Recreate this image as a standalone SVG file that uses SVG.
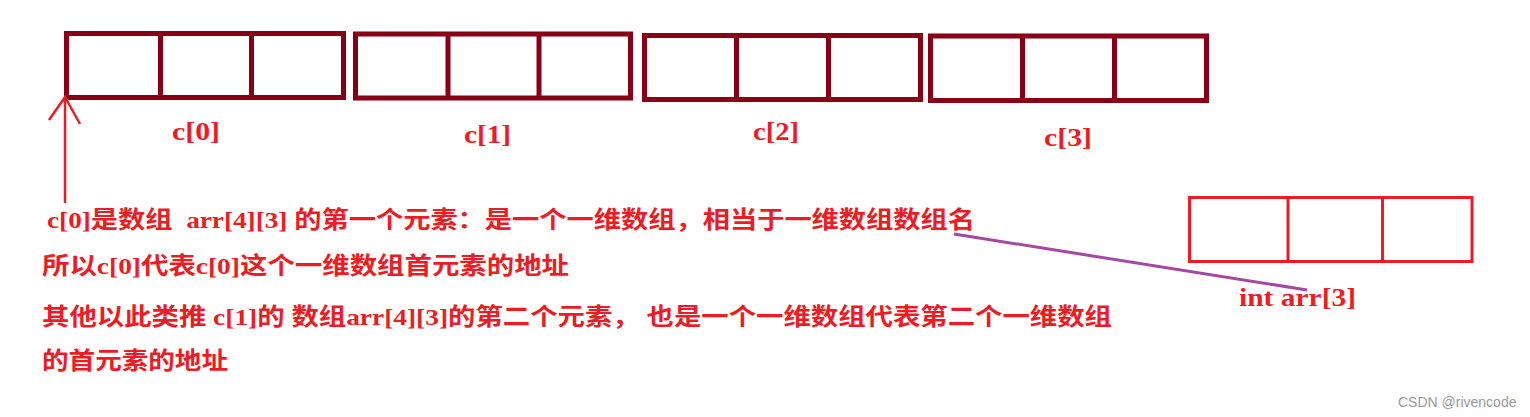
<svg xmlns="http://www.w3.org/2000/svg" width="1530" height="417" viewBox="0 0 1530 417">
<style>
.dr{fill:none;stroke:#880015;stroke-width:5}
.rd{fill:none;stroke:#ED1C24;stroke-width:3}
.lbl{font-family:"Liberation Serif","Noto Sans CJK SC",serif;font-weight:bold;fill:#ED1C24}
.cn{font-family:"Liberation Serif","Noto Sans CJK SC",serif;font-weight:bold;fill:#ED1C24;font-size:24px}
.wm{font-family:"Liberation Sans",Arial,sans-serif;font-size:14px;fill:#9a9a9a}
</style>
<rect width="1530" height="417" fill="#ffffff"/>
<g id="c0">
<rect class="dr" x="66.5" y="33.5" width="277" height="64"/>
<line class="dr" x1="160.5" y1="33.5" x2="160.5" y2="97.5"/>
<line class="dr" x1="251.5" y1="33.5" x2="251.5" y2="97.5"/>
<text class="lbl" x="172" y="140" font-size="26" textLength="48" lengthAdjust="spacingAndGlyphs">c[0]</text>
</g>
<g id="c1">
<rect class="dr" x="355.5" y="34" width="275" height="64"/>
<line class="dr" x1="448" y1="34" x2="448" y2="98"/>
<line class="dr" x1="539" y1="34" x2="539" y2="98"/>
<text class="lbl" x="464" y="143" font-size="26" textLength="47" lengthAdjust="spacingAndGlyphs">c[1]</text>
</g>
<g id="c2">
<rect class="dr" x="644.5" y="35.5" width="276" height="64"/>
<line class="dr" x1="736.5" y1="35.5" x2="736.5" y2="99.5"/>
<line class="dr" x1="828.5" y1="35.5" x2="828.5" y2="99.5"/>
<text class="lbl" x="753" y="140" font-size="26" textLength="46" lengthAdjust="spacingAndGlyphs">c[2]</text>
</g>
<g id="c3">
<rect class="dr" x="930.5" y="36" width="276" height="64.5"/>
<line class="dr" x1="1022.5" y1="36" x2="1022.5" y2="100.5"/>
<line class="dr" x1="1114.5" y1="36" x2="1114.5" y2="100.5"/>
<text class="lbl" x="1044" y="146" font-size="26" textLength="48" lengthAdjust="spacingAndGlyphs">c[3]</text>
</g>
<g id="arr3">
<rect class="rd" x="1189.5" y="197.5" width="282.5" height="64"/>
<line class="rd" x1="1288" y1="197.5" x2="1288" y2="261.5"/>
<line class="rd" x1="1382.5" y1="197.5" x2="1382.5" y2="261.5"/>
<text class="lbl" x="1239" y="306" font-size="26" textLength="117" lengthAdjust="spacingAndGlyphs">int arr[3]</text>
</g>
<g id="connectors">
<path d="M65 203 L65 97 M49 120 L65 97 L80 124" fill="none" stroke="#ED1C24" stroke-width="2.5"/>
<line x1="954" y1="234" x2="1307" y2="290" stroke="#A349A4" stroke-width="3"/>
</g>
<g id="notes">
<text class="cn" xml:space="preserve" x="47" y="228" textLength="928" lengthAdjust="spacingAndGlyphs">c[0]是数组  arr[4][3] 的第一个元素：是一个一维数组，相当于一维数组数组名</text>
<text class="cn" x="42" y="274" textLength="527" lengthAdjust="spacingAndGlyphs">所以c[0]代表c[0]这个一维数组首元素的地址</text>
<text class="cn" xml:space="preserve" x="42" y="325" textLength="1070" lengthAdjust="spacingAndGlyphs">其他以此类推 c[1]的 数组arr[4][3]的第二个元素， 也是一个一维数组代表第二个一维数组</text>
<text class="cn" x="42" y="369" textLength="186" lengthAdjust="spacingAndGlyphs">的首元素的地址</text>
</g>
<text class="wm" x="1398" y="407">CSDN @rivencode</text>
</svg>
